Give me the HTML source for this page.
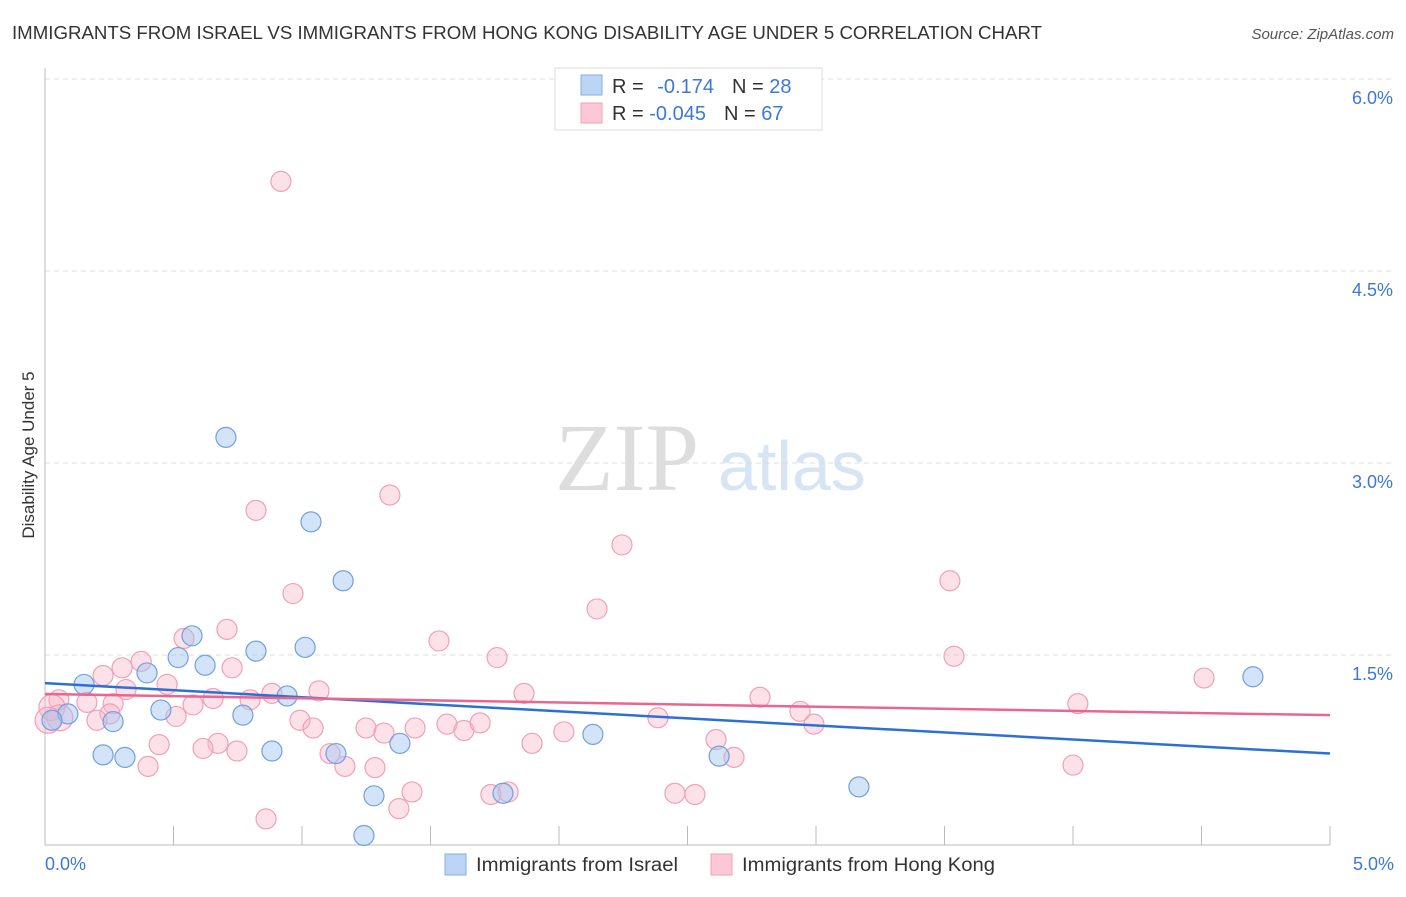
<!DOCTYPE html>
<html><head><meta charset="utf-8"><style>
body{margin:0;background:#fff;font-family:"Liberation Sans",sans-serif}
</style></head><body>
<svg id="c" width="1406" height="892" xmlns="http://www.w3.org/2000/svg">
<text x="12" y="39" font-size="18.5" fill="#333" textLength="1030" lengthAdjust="spacingAndGlyphs">IMMIGRANTS FROM ISRAEL VS IMMIGRANTS FROM HONG KONG DISABILITY AGE UNDER 5 CORRELATION CHART</text>
<text x="1394" y="39" font-size="15" fill="#555" font-style="italic" text-anchor="end">Source: ZipAtlas.com</text>
<text x="555" y="490" font-size="96" fill="#ddd" font-family="Liberation Serif,serif">ZIP</text>
<text x="718" y="490" font-size="70" fill="#d6e4f5">atlas</text>
<text transform="translate(34,455) rotate(-90)" font-size="17" fill="#333" text-anchor="middle">Disability Age Under 5</text>
<g id="grid"></g><g id="pts"></g><g id="trend"></g>
<g>
<rect x="555" y="68" width="267" height="62" fill="#fff" stroke="#ddd"/>
<rect x="581" y="75" width="21" height="20" fill="#bcd5f5" stroke="#80aee6"/>
<rect x="581" y="103" width="21" height="20" fill="#fcc8d8" stroke="#f0a0b8"/>
<text x="612" y="93" font-size="20" fill="#333">R = <tspan fill="#3c78d8" dx="8">-0.174</tspan><tspan dx="18">N = </tspan><tspan fill="#3c78d8">28</tspan></text>
<text x="612" y="120" font-size="20" fill="#333">R = <tspan fill="#3c78d8">-0.045</tspan><tspan dx="18">N = </tspan><tspan fill="#3c78d8">67</tspan></text>
</g>
<g>
<rect x="445" y="854" width="21" height="21" fill="#bcd5f5" stroke="#80aee6"/>
<text x="476" y="871" font-size="19" fill="#333" textLength="202" lengthAdjust="spacingAndGlyphs">Immigrants from Israel</text>
<rect x="711" y="854" width="21" height="21" fill="#fcc8d8" stroke="#f0a0b8"/>
<text x="742" y="871" font-size="19" fill="#333" textLength="253" lengthAdjust="spacingAndGlyphs">Immigrants from Hong Kong</text>
</g>
</svg>
<script>
const yTicks=[1.5,3.0,4.5,6.0];
const xTickLabels=["0.0%","5.0%"];
const israelX=[0.704,1.035,1.160,0.572,0.518,0.623,0.821,1.012,0.397,0.152,0.942,0.451,0.770,0.265,0.089,0.027,0.226,0.311,0.883,1.132,1.381,2.132,2.623,1.280,1.241,1.782,3.167,4.700];
const israelY=[3.20,2.54,2.08,1.65,1.48,1.42,1.53,1.56,1.36,1.27,1.18,1.07,1.03,0.98,1.04,0.99,0.72,0.70,0.75,0.73,0.81,0.88,0.71,0.40,0.09,0.42,0.47,1.33];
const hkX=[0.918,0.821,1.342,2.245,0.965,2.148,3.521,0.708,1.533,3.537,0.541,0.374,0.300,0.226,0.475,1.759,4.510,1.864,1.066,0.883,0.654,0.576,0.798,2.782,2.938,4.019,0.265,0.163,0.054,0.253,0.510,0.202,0.992,1.043,1.249,1.319,1.440,1.564,1.630,1.693,2.019,2.385,2.992,0.444,0.673,0.747,0.615,1.109,1.167,1.284,0.401,1.895,2.611,2.681,4.000,1.428,1.377,1.735,1.802,2.451,2.529,0.860,0.027,0.058,0.012,0.315,0.728];
const hkY=[5.20,2.63,2.75,2.36,1.98,1.86,2.08,1.70,1.61,1.49,1.63,1.45,1.40,1.34,1.27,1.48,1.32,1.20,1.22,1.20,1.16,1.11,1.15,1.17,1.06,1.12,1.12,1.13,1.15,1.04,1.02,0.99,0.99,0.93,0.93,0.89,0.93,0.96,0.91,0.97,0.90,1.01,0.96,0.80,0.81,0.75,0.77,0.73,0.63,0.62,0.63,0.81,0.84,0.70,0.64,0.43,0.30,0.41,0.43,0.42,0.41,0.22,1.09,1.01,0.99,1.23,1.40];
const israelTrend=[1.28,0.73];
const hkTrend=[1.195,1.03];
const sx=v=>45+v*257, sy=v=>847-v*128;
const NS="http://www.w3.org/2000/svg";
function mk(t,a,p){const e=document.createElementNS(NS,t);for(const k in a)e.setAttribute(k,a[k]);p.appendChild(e);return e;}
const grid=document.getElementById('grid');
yTicks.forEach(t=>{
 const l=mk('line',{x1:45,x2:1394,y1:sy(t),y2:sy(t),stroke:'#ddd','stroke-dasharray':'5,4'},grid);
 
 
 const tx=mk('text',{x:1393,y:sy(t)+25,'font-size':18,fill:'#3c78d8','text-anchor':'end'},grid);
 tx.textContent=t.toFixed(1)+'%';
 
 
});
const ax=mk('line',{x1:45,x2:1330,y1:845,y2:845,stroke:'#bbb'},grid);


const ay=mk('line',{x1:45,x2:45,y1:68,y2:845,stroke:'#bbb'},grid);


for(let i=1;i<=10;i++){const t=mk('line',{x1:sx(i*0.5),x2:sx(i*0.5),y1:826,y2:845,stroke:'#bbb'},grid);
 
 }
xTickLabels.forEach((s,i)=>{const t=mk('text',{x:i?1394:45,y:870,'font-size':18,fill:'#3c78d8','text-anchor':i?'end':'start'},grid);t.textContent=s;
 
 });
const pts=document.getElementById('pts');
hkX.forEach((x,i)=>{const big=i>=62&&i<=64;const c=mk('circle',{cx:sx(x),cy:sy(hkY[i]),r:big?13:10,fill:'rgba(248,180,200,0.4)',stroke:'#f0a0b8','stroke-width':1.2},pts);
 
 });
israelX.forEach((x,i)=>{const c=mk('circle',{cx:sx(x),cy:sy(israelY[i]),r:10,fill:'rgba(160,196,240,0.45)',stroke:'#6fa0e0','stroke-width':1.2},pts);
 
 });
const tr=document.getElementById('trend');
const l1=mk('line',{x1:sx(0),x2:sx(5),y1:sy(israelTrend[0]),y2:sy(israelTrend[1]),stroke:'#2c6fd6','stroke-width':2.5},tr);


const l2=mk('line',{x1:sx(0),x2:sx(5),y1:sy(hkTrend[0]),y2:sy(hkTrend[1]),stroke:'#e8668f','stroke-width':2.5},tr);


</script>
</body></html>
